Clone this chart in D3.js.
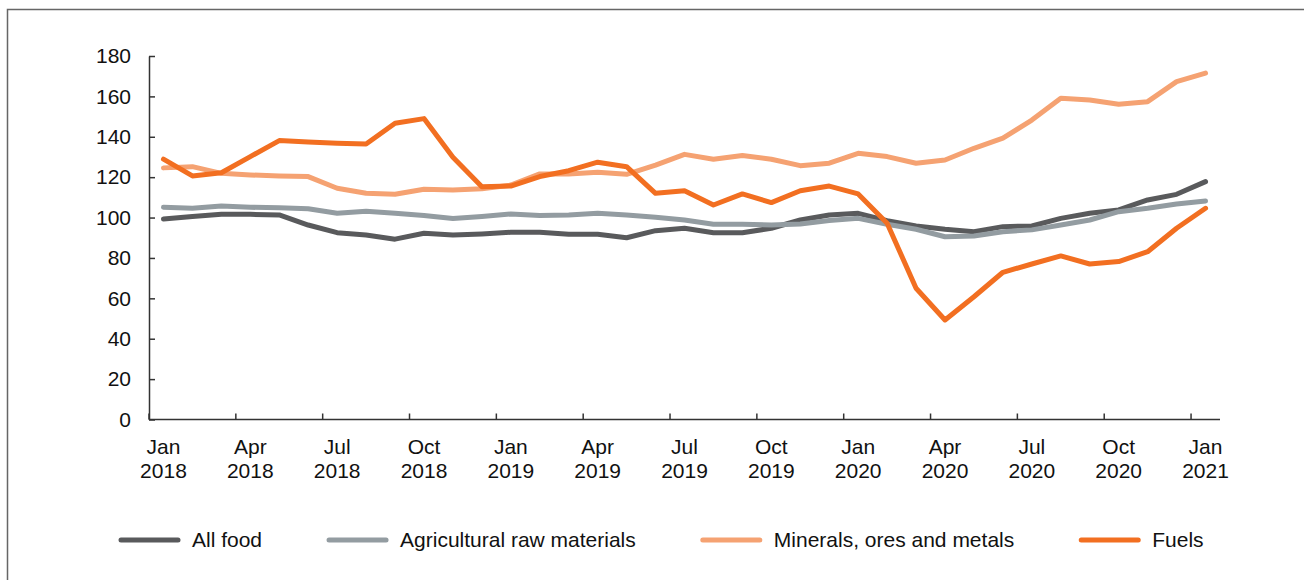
<!DOCTYPE html>
<html>
<head>
<meta charset="utf-8">
<script src="https://cdn.jsdelivr.net/npm/d3@7"></script>
<style>
  body { margin: 0; background: #fff; }
  svg { display: block; font-family: "Liberation Sans", Arial, sans-serif; }
</style>
</head>
<body>
<div id="chart"></div>
<script>
// months Jan 2018 .. Jan 2021
var months = ["Jan 2018","Feb 2018","Mar 2018","Apr 2018","May 2018","Jun 2018","Jul 2018","Aug 2018","Sep 2018","Oct 2018","Nov 2018","Dec 2018",
              "Jan 2019","Feb 2019","Mar 2019","Apr 2019","May 2019","Jun 2019","Jul 2019","Aug 2019","Sep 2019","Oct 2019","Nov 2019","Dec 2019",
              "Jan 2020","Feb 2020","Mar 2020","Apr 2020","May 2020","Jun 2020","Jul 2020","Aug 2020","Sep 2020","Oct 2020","Nov 2020","Dec 2020",
              "Jan 2021"];
var tickMonths = ["Jan 2018","Apr 2018","Jul 2018","Oct 2018","Jan 2019","Apr 2019","Jul 2019","Oct 2019",
                  "Jan 2020","Apr 2020","Jul 2020","Oct 2020","Jan 2021"];
var yTicks = [0, 20, 40, 60, 80, 100, 120, 140, 160, 180];

var allFood = [99.3, 100.5, 101.6, 101.6, 101.3, 96.3, 92.5, 91.4, 89.3, 92.2, 91.4, 91.9,
               92.7, 92.7, 91.7, 91.7, 90.0, 93.5, 94.7, 92.5, 92.5, 94.7, 98.8, 101.3,
               102.1, 98.5, 95.8, 94.2, 93.0, 95.5, 95.8, 99.6, 102.1, 103.8, 108.7, 111.5,
               117.8];
var agriRaw = [105.1, 104.6, 105.7, 105.1, 104.8, 104.4, 102.1, 103.1, 102.1, 101.0, 99.5, 100.5,
               101.8, 101.0, 101.3, 102.1, 101.3, 100.1, 98.8, 96.7, 96.7, 96.3, 96.8, 98.5,
               99.6, 96.7, 94.2, 90.5, 90.9, 93.0, 93.9, 96.3, 98.8, 102.9, 104.6, 106.7,
               108.2];
var minerals = [124.6, 125.2, 121.9, 121.1, 120.6, 120.3, 114.5, 112.0, 111.5, 114.0, 113.7, 114.3,
                116.1, 121.6, 121.6, 122.4, 121.4, 126.0, 131.3, 128.9, 130.7, 128.9, 125.7, 126.9,
                131.8, 130.2, 126.9, 128.5, 134.3, 139.3, 148.3, 159.1, 158.2, 156.1, 157.4, 167.3,
                171.5];
var fuels = [128.9, 120.6, 122.2, 130.2, 138.1, 137.4, 136.8, 136.4, 146.7, 149.0, 129.9, 115.3,
             115.6, 120.3, 123.2, 127.4, 125.2, 112.0, 113.3, 106.2, 111.7, 107.4, 113.3, 115.6,
             111.7, 97.2, 65.0, 49.3, 60.8, 72.9, 77.0, 81.0, 77.0, 78.2, 83.1, 94.7,
             104.6];

var seriesNames = ["All food", "Agricultural raw materials", "Minerals, ores and metals", "Fuels"];
var seriesColors = ["#595a5c", "#939ca1", "#f5a272", "#f26f21"];
var seriesValues = [allFood, agriRaw, minerals, fuels];

var width = 1304, height = 580;
var plot = { left: 149, right: 1220, top: 56, bottom: 419.5 };
var fontSize = 21;

var svg = d3.select("#chart").append("svg")
    .attr("width", width)
    .attr("height", height);

// frame (only top and left edges are visible in the picture)
svg.append("rect")
    .attr("x", 7.5).attr("y", 9.5)
    .attr("width", 1400).attr("height", 700)
    .attr("fill", "none")
    .attr("stroke", "#666")
    .attr("stroke-width", 1.5);

var x = d3.scaleBand().domain(months).range([plot.left, plot.right]).padding(0);
var y = d3.scaleLinear().domain([0, 180]).range([plot.bottom, plot.top]);
var bw = x.bandwidth();

// y axis, ticks pointing into the plot
var yAxis = svg.append("g")
    .attr("transform", "translate(" + plot.left + ",0)")
    .call(d3.axisLeft(y).tickValues(yTicks).tickSizeInner(-6).tickSizeOuter(0).tickPadding(18));
yAxis.select(".domain").attr("stroke", "#333").attr("stroke-width", 1.5);
yAxis.selectAll(".tick line").attr("stroke", "#333").attr("stroke-width", 1.5);
yAxis.selectAll(".tick text").attr("font-size", fontSize).attr("fill", "#111")
    .attr("font-family", "Liberation Sans, Arial, sans-serif");

// x axis
var xAxis = svg.append("g");
xAxis.append("line")
    .attr("x1", plot.left).attr("x2", plot.right)
    .attr("y1", y(0)).attr("y2", y(0))
    .attr("stroke", "#333").attr("stroke-width", 1.5);
xAxis.selectAll(".xtick")
    .data(tickMonths)
    .enter().append("line")
    .attr("x1", function (d) { return x(d); })
    .attr("x2", function (d) { return x(d); })
    .attr("y1", y(0)).attr("y2", y(0) - 6)
    .attr("stroke", "#333").attr("stroke-width", 1.5);
var xl = xAxis.selectAll(".xlabel")
    .data(tickMonths)
    .enter().append("text")
    .attr("text-anchor", "middle")
    .attr("font-size", fontSize)
    .attr("fill", "#111");
xl.append("tspan")
    .attr("x", function (d) { return x(d) + bw / 2; })
    .attr("y", 454)
    .text(function (d) { return d.split(" ")[0]; });
xl.append("tspan")
    .attr("x", function (d) { return x(d) + bw / 2; })
    .attr("y", 478)
    .text(function (d) { return d.split(" ")[1]; });

// lines
var line = d3.line()
    .x(function (d, i) { return x(months[i]) + bw / 2; })
    .y(function (d) { return y(d); });

svg.selectAll(".series")
    .data(seriesValues)
    .enter().append("path")
    .attr("d", function (d) { return line(d); })
    .attr("fill", "none")
    .attr("stroke", function (d, i) { return seriesColors[i]; })
    .attr("stroke-width", 5)
    .attr("stroke-linejoin", "round")
    .attr("stroke-linecap", "round");

// legend
var legend = svg.append("g");
var lx = 121;
seriesNames.forEach(function (name, i) {
    legend.append("line")
        .attr("x1", lx).attr("x2", lx + 57)
        .attr("y1", 540).attr("y2", 540)
        .attr("stroke", seriesColors[i])
        .attr("stroke-width", 5)
        .attr("stroke-linecap", "round");
    var t = legend.append("text")
        .attr("x", lx + 71).attr("y", 547)
        .attr("font-size", fontSize)
        .attr("fill", "#111")
        .text(name);
    lx = lx + 71 + t.node().getComputedTextLength() + 67;
});
</script>
</body>
</html>
